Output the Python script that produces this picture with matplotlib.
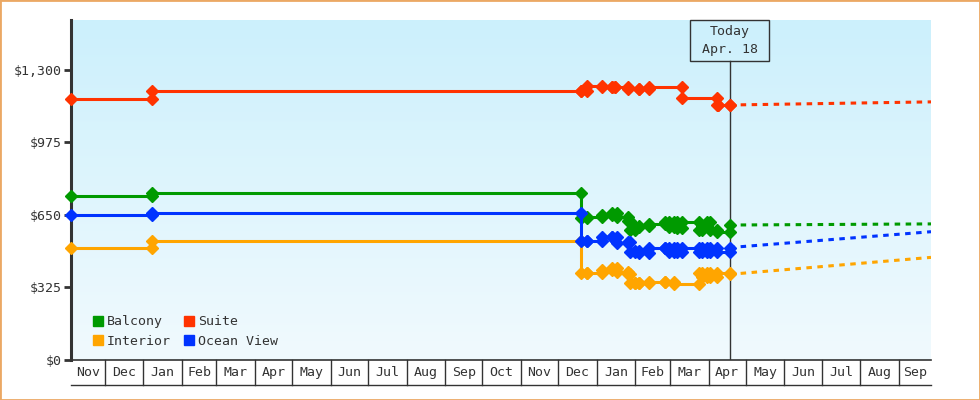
import matplotlib
matplotlib.use('Agg')
import matplotlib.pyplot as plt
import matplotlib.dates as mdates
from matplotlib.lines import Line2D
from matplotlib.patches import Rectangle
from matplotlib.colors import LinearSegmentedColormap
from matplotlib.transforms import blended_transform_factory
import numpy as np
import pandas as pd

# price history (observation dates and prices)
suite_dates = ['2016-11-04', '2017-01-08', '2017-12-19', '2017-12-24', '2018-01-05', '2018-01-13',
               '2018-01-16', '2018-01-26', '2018-02-04', '2018-02-12', '2018-03-11', '2018-04-08',
               '2018-04-09', '2018-04-18']
suite_prices = [1170, 1207, 1207, 1228, 1225, 1222, 1225, 1215, 1215, 1222, 1176, 1143, 1143, 1143]

balcony_dates = ['2016-11-04', '2017-01-08', '2017-12-19', '2017-12-24', '2018-01-05', '2018-01-13',
                 '2018-01-17', '2018-01-26', '2018-01-28', '2018-02-01', '2018-02-04', '2018-02-12',
                 '2018-02-25', '2018-02-28', '2018-03-04', '2018-03-07', '2018-03-11', '2018-03-24',
                 '2018-03-27', '2018-03-31', '2018-04-02', '2018-04-08', '2018-04-18']
balcony_prices = [737, 747, 637, 641, 650, 659, 641, 623, 583, 596, 600, 610,
                  620, 598, 620, 590, 620, 583, 600, 620, 583, 575, 605]

ocean_dates = balcony_dates
ocean_prices = [650, 658, 535, 535, 553, 553, 524, 530, 484, 490, 480, 504,
                504, 484, 504, 484, 504, 484, 504, 484, 504, 484, 504]

interior_dates = ['2016-11-04', '2017-01-08', '2017-12-19', '2017-12-24', '2018-01-05', '2018-01-13',
                  '2018-01-17', '2018-01-26', '2018-01-28', '2018-02-01', '2018-02-04', '2018-02-12',
                  '2018-02-25', '2018-03-04', '2018-03-24', '2018-03-27', '2018-03-31', '2018-04-02',
                  '2018-04-08', '2018-04-18']
interior_prices = [501, 533, 389, 389, 403, 414, 393, 384, 344, 344, 344, 348,
                   348, 340, 389, 370, 389, 370, 389, 384]

# forecast to the end of the chart
forecast_end = '2018-09-27'
suite_forecast = 1157
balcony_forecast = 610
ocean_forecast = 575
interior_forecast = 460

today = '2018-04-18'
start = '2016-11-04'

series = [
    ('Balcony', balcony_dates, balcony_prices, balcony_forecast, '#009a00'),
    ('Interior', interior_dates, interior_prices, interior_forecast, '#ffa500'),
    ('Suite', suite_dates, suite_prices, suite_forecast, '#ff3300'),
    ('Ocean View', ocean_dates, ocean_prices, ocean_forecast, '#0033ff'),
]

plt.rcParams['font.family'] = ['DejaVu Sans Mono']
txt = '#333333'

fig = plt.figure(figsize=(9.8, 4.0), dpi=100)
ax = fig.add_axes([71 / 980, 40 / 400, 860 / 980, 340 / 400])

x0 = mdates.date2num(pd.Timestamp(start))
x1 = mdates.date2num(pd.Timestamp(forecast_end))
t = mdates.date2num(pd.Timestamp(today))
ymax = 1524

# background gradient
bg = LinearSegmentedColormap.from_list('bg', ['#f1fafe', '#ccf0fc'])
ax.imshow(np.linspace(0, 1, 256).reshape(-1, 1), cmap=bg, origin='lower',
          extent=[x0, x1, 0, ymax], aspect='auto', zorder=0)


def step_path(dates, prices):
    d = mdates.date2num(pd.to_datetime(dates))
    xs = [d[0]]
    ys = [prices[0]]
    for i in range(1, len(d)):
        xs += [d[i], d[i]]
        ys += [prices[i - 1], prices[i]]
    return xs, ys


handles = []
for name, dates, prices, fc, color in series:
    xs, ys = step_path(dates, prices)
    ax.plot(xs, ys, color=color, lw=2.2, marker='D', ms=6.3, zorder=4, clip_on=False)
    ax.plot([t, x1], [prices[-1], fc], color=color, lw=2.2, ls=(0, (1.8, 1.8)), zorder=3)
    handles.append(Line2D([], [], ls='none', marker='s', ms=7.5, color=color))

ax.set_xlim(x0, x1)
ax.set_ylim(0, ymax)

ax.set_yticks([0, 325, 650, 975, 1300])
ax.yaxis.set_major_formatter(plt.FuncFormatter(lambda v, p: '${:,.0f}'.format(v)))
ax.tick_params(axis='y', length=5, width=2, color=txt, labelcolor=txt, labelsize=9.5, pad=2)
ax.set_xticks([])
for s in ['top', 'right']:
    ax.spines[s].set_visible(False)
ax.spines['left'].set_color(txt)
ax.spines['left'].set_linewidth(2.2)
ax.spines['bottom'].set_color(txt)
ax.spines['bottom'].set_linewidth(1.2)

# month row under the axis
tr = blended_transform_factory(ax.transData, ax.transAxes)
row = 25 / 340
months = pd.date_range(pd.Timestamp(start).replace(day=1), forecast_end, freq='MS')
for i, m in enumerate(months):
    a = max(mdates.date2num(m), x0)
    b = min(mdates.date2num(months[i + 1]) if i + 1 < len(months) else x1, x1)
    if i > 0:
        ax.plot([a, a], [0, -row], color=txt, lw=1, transform=tr, clip_on=False)
    ax.text((a + b) / 2, -row / 2, m.strftime('%b'), transform=tr, ha='center', va='center',
            fontsize=9.5, color=txt)
ax.plot([x0, x1], [-row, -row], color=txt, lw=1, transform=tr, clip_on=False)

# today marker
ax.plot([t, t], [0, 1 - 41 / 340], color=txt, lw=1, transform=tr, zorder=2)
ax.add_patch(Rectangle((t - 32, 1 - 41 / 340), 64, 41 / 340, transform=tr, fill=False,
                       ec=txt, lw=1, clip_on=False, zorder=5))
ax.text(t, (360 - 32) / 340, 'Today', transform=tr, ha='center', va='center', fontsize=9.5, color=txt)
ax.text(t, (360 - 49) / 340, 'Apr. 18', transform=tr, ha='center', va='center', fontsize=9.5, color=txt)

leg = ax.legend(handles, [s[0] for s in series], ncol=2, loc='lower left',
                bbox_to_anchor=(22 / 860, 12 / 340), frameon=False, fontsize=9.5,
                handlelength=0.8, handletextpad=0.25, columnspacing=1.0, labelspacing=0.5,
                borderpad=0, borderaxespad=0)
for tx in leg.get_texts():
    tx.set_color(txt)

fig.patches.append(Rectangle((0, 0), 1, 1, transform=fig.transFigure, fill=False,
                             ec='#eba864', lw=2))

fig.savefig('out.png', dpi=100)
